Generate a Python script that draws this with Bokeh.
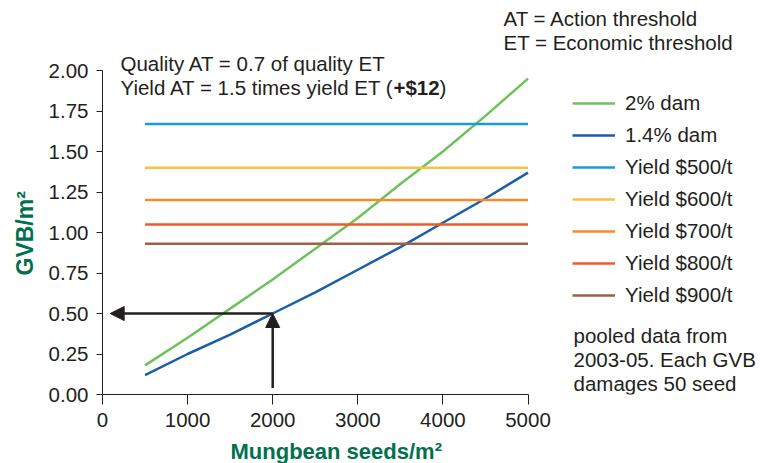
import numpy as np
from bokeh.plotting import figure
from bokeh.models import Range1d, Label, Legend, LegendItem, Arrow, NormalHead, FixedTicker, Title
from bokeh.embed import file_html
from bokeh.resources import INLINE

# ---- data ----
seeds = [500, 1000, 1500, 2000, 2500, 3000, 3500, 4000, 4500, 5000]
dam_2pct = [0.18, 0.35, 0.53, 0.71, 0.90, 1.09, 1.30, 1.50, 1.72, 1.95]
dam_14pct = [0.12, 0.25, 0.37, 0.50, 0.63, 0.77, 0.91, 1.06, 1.21, 1.37]
yield_names = ["Yield $500/t", "Yield $600/t", "Yield $700/t", "Yield $800/t", "Yield $900/t"]
yield_levels = [1.67, 1.40, 1.20, 1.05, 0.93]
yield_x = [500, 5000]
x_ticks = [0, 1000, 2000, 3000, 4000, 5000]
y_ticks = [0.0, 0.25, 0.5, 0.75, 1.0, 1.25, 1.5, 1.75, 2.0]
arrow_point = (2000, 0.5)

FONT = "Liberation Sans"
GREEN_T = "#00704f"
TXT = "#231f20"

# frame spans page px x 102..760, y 0..394 ; axis data 0..5000 -> 102..527.5, 0..2 -> 394..70
W, H = 760, 463
X0 = 102
XPX = 5000 / 425.5
YPX = 2.0 / 324.0

p = figure(width=W, height=H, output_backend="svg", toolbar_location=None,
           x_range=Range1d(0, (W - X0) * XPX), y_range=Range1d(0, 394 * YPX),
           min_border_left=X0, min_border_right=0, min_border_top=0, min_border_bottom=H - 394)
p.outline_line_color = None
p.xgrid.grid_line_color = None
p.ygrid.grid_line_color = None
p.background_fill_color = "white"
p.border_fill_color = "white"

for ax in (p.xaxis[0], p.yaxis[0]):
    ax.axis_line_color = TXT
    ax.major_tick_line_color = TXT
    ax.minor_tick_line_color = None
    ax.major_tick_in = 0
    ax.major_label_text_font = FONT
    ax.major_label_text_font_size = "20.5px"
    ax.major_label_text_color = TXT
p.xaxis.major_tick_out = 10
p.yaxis.major_tick_out = 6
p.xaxis.ticker = FixedTicker(ticks=x_ticks)
p.yaxis.ticker = FixedTicker(ticks=y_ticks)
p.xaxis.bounds = (0, 5000)
p.yaxis.bounds = (0, 2.0)
p.yaxis.major_label_overrides = {v: f"{v:.2f}" for v in y_ticks}
p.xaxis.major_label_standoff = 8
p.yaxis.major_label_standoff = 8

colors_dam = ["#6cc35a", "#1b5ea8"]
colors_yield = ["#1a9bd7", "#f6c244", "#f68b2a", "#f05a28", "#9a6049"]

items = []
r = p.line(seeds, dam_2pct, line_color=colors_dam[0], line_width=2.5)
items.append(LegendItem(label="2% dam", renderers=[r]))
r = p.line(seeds, dam_14pct, line_color=colors_dam[1], line_width=2.5)
items.append(LegendItem(label="1.4% dam", renderers=[r]))
for name, lvl, c in zip(yield_names, yield_levels, colors_yield):
    r = p.line(yield_x, [lvl, lvl], line_color=c, line_width=2.5)
    items.append(LegendItem(label=name, renderers=[r]))

legend = Legend(items=items, location=(572 - X0, 87), padding=0, margin=0,
                border_line_alpha=0, background_fill_alpha=0,
                glyph_width=43, glyph_height=24, label_height=24, label_standoff=10,
                spacing=8, label_text_font=FONT, label_text_font_size="20.5px",
                label_text_color=TXT)
p.add_layout(legend, "center")

# arrows
p.add_layout(Arrow(x_start=arrow_point[0], y_start=arrow_point[1], x_end=90, y_end=arrow_point[1],
                   line_color=TXT, line_width=2.5,
                   end=NormalHead(size=14, fill_color=TXT, line_color=TXT)))
p.add_layout(Arrow(x_start=arrow_point[0], y_start=0.04, x_end=arrow_point[0], y_end=arrow_point[1],
                   line_color=TXT, line_width=2.5,
                   end=NormalHead(size=14, fill_color=TXT, line_color=TXT)))

def dx(px):
    return (px - X0) * XPX
def dy(py):
    return (394 - py) * YPX

def lab(text, px, py, size="20.5px", bold=False, color=TXT):
    p.add_layout(Label(x=dx(px), y=dy(py), text=text, text_font=FONT, text_font_size=size,
                       text_font_style="bold" if bold else "normal", text_color=color,
                       text_align="left", text_baseline="middle"))

lab("AT = Action threshold", 503, 18)
lab("ET = Economic threshold", 503, 41.5)
lab("Quality AT = 0.7 of quality ET", 120, 62.5)
lab("Yield AT = 1.5 times yield ET (", 120, 86.5)
lab("+$12", 393, 86.5, bold=True)
lab(")", 439, 86.5)
lab("pooled data from", 573, 335)
lab("2003-05. Each GVB", 573, 359)
lab("damages 50 seed", 573, 383)

p.add_layout(Title(text="Mungbean seeds/m\u00b2", align="left", offset=230 - X0, standoff=0,
                   padding=dict(left=0, right=0, top=7, bottom=0),
                   text_font=FONT, text_font_size="22px", text_font_style="bold",
                   text_color=GREEN_T), "below")
p.add_layout(Title(text="GVB/m\u00b2", align="left", offset=394 - 275, standoff=16,
                   text_font=FONT, text_font_size="23px", text_font_style="bold",
                   text_color=GREEN_T), "left")

open("out.html", "w").write(file_html(p, INLINE))
